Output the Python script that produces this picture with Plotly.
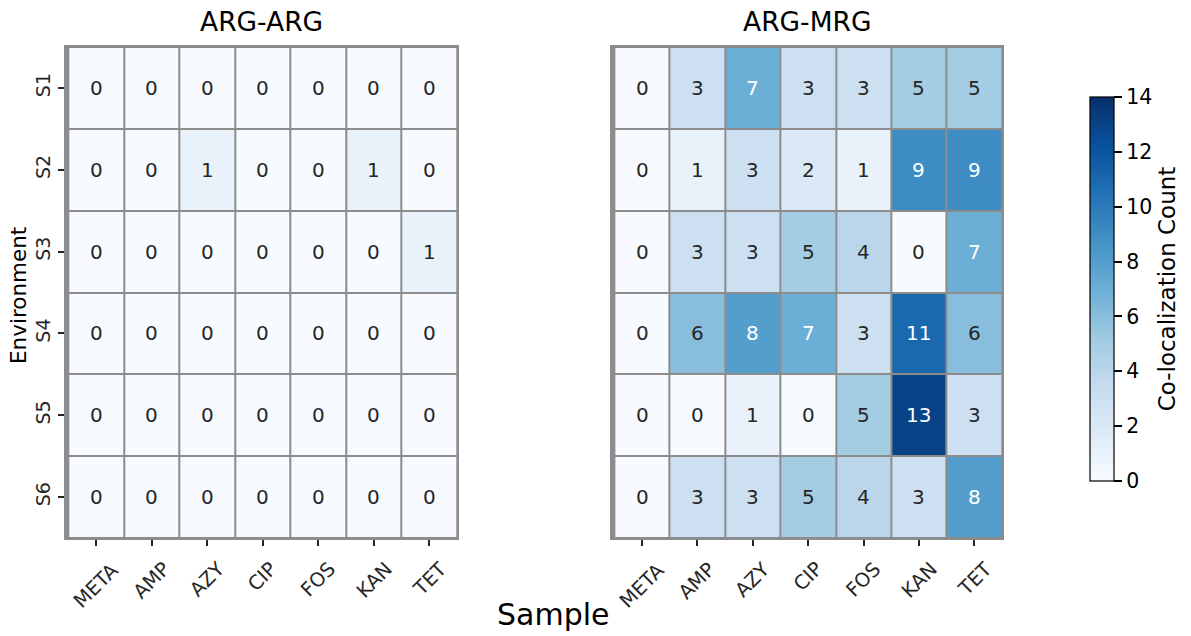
import plotly.graph_objects as go

samples = ["META", "AMP", "AZY", "CIP", "FOS", "KAN", "TET"]
environments = ["S1", "S2", "S3", "S4", "S5", "S6"]

arg_arg = [
    [0, 0, 0, 0, 0, 0, 0],
    [0, 0, 1, 0, 0, 1, 0],
    [0, 0, 0, 0, 0, 0, 1],
    [0, 0, 0, 0, 0, 0, 0],
    [0, 0, 0, 0, 0, 0, 0],
    [0, 0, 0, 0, 0, 0, 0],
]
arg_mrg = [
    [0, 3, 7, 3, 3, 5, 5],
    [0, 1, 3, 2, 1, 9, 9],
    [0, 3, 3, 5, 4, 0, 7],
    [0, 6, 8, 7, 3, 11, 6],
    [0, 0, 1, 0, 5, 13, 3],
    [0, 3, 3, 5, 4, 3, 8],
]
panel_titles = ["ARG-ARG", "ARG-MRG"]
cbar_ticks = [0, 2, 4, 6, 8, 10, 12, 14]

blues = ["#f7fbff", "#deebf7", "#c6dbef", "#9ecae1", "#6baed6",
         "#4292c6", "#2171b5", "#08519c", "#08306b"]
colorscale = [[i / (len(blues) - 1), c] for i, c in enumerate(blues)]

W, H = 1191, 636
FONT = "DejaVu Sans"


def px(x):
    return x / W


def py(y):
    return 1 - y / H


fig = go.Figure()

x_domains = [[px(66), px(457)], [px(612), px(1002)]]
y_domain = [py(538), py(47)]

for k, z in enumerate([arg_arg, arg_mrg]):
    xa = "x" if k == 0 else "x2"
    ya = "y" if k == 0 else "y2"
    fig.add_trace(go.Heatmap(
        z=z, x=samples, y=environments,
        colorscale=colorscale, zmin=0, zmax=14,
        xgap=2, ygap=2,
        xaxis=xa, yaxis=ya,
        showscale=(k == 1),
        hoverinfo="skip",
        colorbar=dict(
            x=px(1090), xanchor="left", xref="paper", xpad=0,
            y=py(289), yanchor="middle", ypad=0,
            len=384, lenmode="pixels", thickness=24, thicknessmode="pixels",
            outlinecolor="black", outlinewidth=1.2,
            tickvals=cbar_ticks, ticks="outside", ticklen=8, tickcolor="black",
            tickwidth=1.5, tickprefix="\u00a0",
            tickfont=dict(size=20.5, color="black", family=FONT),
            title=dict(text="Co-localization Count", side="right",
                       font=dict(size=23, color="black", family=FONT)),
        ) if k == 1 else None,
    ))
    for i, env in enumerate(environments):
        for j, s in enumerate(samples):
            v = z[i][j]
            fig.add_annotation(
                x=s, y=env, xref=xa, yref=ya, text=str(v), showarrow=False,
                xanchor="center", yanchor="middle",
                font=dict(size=20, family=FONT,
                          color="white" if v >= 7 else "#262626"),
            )
    # x tick labels, centred under each tick and rotated 45 degrees
    for s in samples:
        fig.add_annotation(
            x=s, y=py(555), xref=xa, yref="paper", text=s, showarrow=False,
            textangle=-45, xanchor="center", yanchor="top",
            font=dict(size=19.5, family=FONT, color="#262626"),
        )

common_x = dict(
    ticks="outside", ticklen=6, tickcolor="#262626", tickwidth=1.8,
    showticklabels=False,
    showgrid=False, zeroline=False, automargin=False,
    showline=True, mirror=True, linecolor="#8c8c8c", linewidth=2,
)
common_y = dict(
    autorange="reversed", tickangle=-90, ticks="outside", ticklen=6,
    tickcolor="#262626", tickwidth=1.8,
    tickfont=dict(size=19, color="#262626", family=FONT),
    showgrid=False, zeroline=False, automargin=False,
    showline=True, mirror=True, linecolor="#8c8c8c", linewidth=2,
)

fig.update_layout(
    template="none",
    width=W, height=H,
    margin=dict(l=0, r=0, t=0, b=0, autoexpand=False),
    paper_bgcolor="white",
    plot_bgcolor="#8c8c8c",
    font=dict(family=FONT, color="black"),
    xaxis=dict(domain=x_domains[0], anchor="y", **common_x),
    yaxis=dict(domain=y_domain, anchor="x", **common_y),
    xaxis2=dict(domain=x_domains[1], anchor="y2", **common_x),
    yaxis2=dict(domain=y_domain, anchor="x2", showticklabels=False,
                **{k: v for k, v in common_y.items() if k not in ("ticks",)},
                ticks=""),
)

for k, t in enumerate(panel_titles):
    cx = (x_domains[k][0] + x_domains[k][1]) / 2
    fig.add_annotation(x=cx, y=py(22), xref="paper", yref="paper",
                       text=t, showarrow=False, xanchor="center", yanchor="middle",
                       font=dict(size=26.5, color="black", family=FONT))

fig.add_annotation(x=px(553), y=py(614), xref="paper", yref="paper",
                   text="Sample", showarrow=False, xanchor="center", yanchor="middle",
                   font=dict(size=30, color="black", family=FONT))
fig.add_annotation(x=px(18), y=py(296), xref="paper", yref="paper",
                   text="Environment", showarrow=False, textangle=-90,
                   xanchor="center", yanchor="middle",
                   font=dict(size=21.5, color="black", family=FONT))

fig.write_html("out.html",
               config={"displayModeBar": False},
               post_script="document.body.style.margin='0px';")
